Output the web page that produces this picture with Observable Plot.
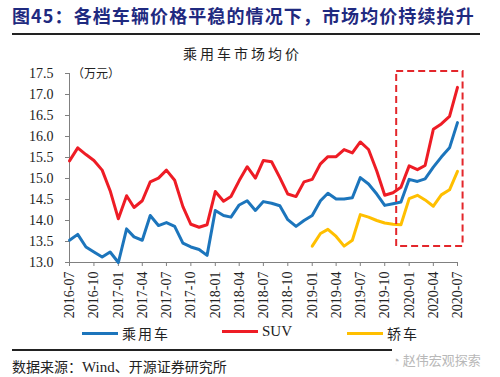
<!DOCTYPE html>
<html><head><meta charset="utf-8">
<script src="https://cdn.jsdelivr.net/npm/d3@7"></script>
<script src="https://cdn.jsdelivr.net/npm/@observablehq/plot@0.6"></script>
<style>
body{margin:0;background:#fff;}
#root{position:relative;width:500px;height:377px;background:#fff;overflow:hidden;font-family:"Noto Sans CJK SC","Liberation Serif",serif;}
.abs{position:absolute;white-space:nowrap;}
</style></head>
<body><div id="root">
<div class="abs" style="left:12px;top:2px;font-size:18px;font-weight:bold;color:#1f2a80;letter-spacing:1.1px;font-family:'Noto Sans CJK SC',sans-serif;">图45：各档车辆价格平稳的情况下，市场均价持续抬升</div>
<div class="abs" style="left:12px;top:33px;width:468px;height:2px;background:#222;"></div>
<div class="abs" style="left:183px;top:43px;font-size:14px;letter-spacing:3px;color:#222;">乘用车市场均价</div>
<div id="plot" class="abs" style="left:0;top:60px;"></div>
<div class="abs" style="left:72px;top:64px;font-size:12px;color:#222;">（万元）</div>
<div id="legend" class="abs" style="left:0;top:323px;width:500px;height:20px;font-size:14px;color:#222;"></div>
<div class="abs" style="left:12px;top:349px;width:380px;height:1.5px;background:#222;"></div>
<div class="abs" style="left:12px;top:356px;font-size:14px;color:#222;font-family:'Noto Sans CJK SC','Liberation Serif',serif;">数据来源：<span style="font-family:'Liberation Serif';font-size:15px">Wind</span>、开源证券研究所</div>
<div class="abs" style="left:392px;top:350px;font-size:13px;color:#b8b8b8;">◔ 赵伟宏观探索</div>
</div>
<script>
const startMonth = "2016-07";
const endMonth = "2020-07";
const seriesNames = ["乘用车", "SUV", "轿车"];
const seriesColors = ["#1c75bc", "#ee1c25", "#ffbf00"];
const passengerCar = [13.53,13.67,13.37,13.25,13.13,13.25,13.00,13.80,13.61,13.53,14.12,13.88,13.95,13.86,13.46,13.37,13.31,13.17,14.24,14.12,14.08,14.37,14.47,14.24,14.45,14.41,14.35,14.02,13.86,14.00,14.12,14.47,14.65,14.51,14.51,14.54,15.02,14.87,14.63,14.36,14.40,14.44,14.98,14.93,14.99,15.27,15.51,15.73,16.33];
const suv = [15.42,15.73,15.57,15.43,15.20,14.71,14.04,14.59,14.31,14.47,14.92,15.01,15.20,14.96,14.33,13.91,13.84,13.90,14.69,14.46,14.57,14.95,15.28,15.01,15.43,15.40,15.02,14.63,14.57,14.92,14.98,15.35,15.52,15.52,15.69,15.61,15.87,15.69,15.18,14.60,14.66,14.79,15.30,15.21,15.31,16.17,16.30,16.48,17.17];
const sedanStart = "2019-01";
const sedan = [13.39,13.69,13.79,13.62,13.39,13.53,14.14,14.08,14.00,13.94,13.91,13.90,14.52,14.60,14.49,14.34,14.61,14.73,15.17];
const yTicks = [13.0,13.5,14.0,14.5,15.0,15.5,16.0,16.5,17.0,17.5];
const highlight = {start: "2019-11-15", end: "2020-07-22", low: 13.38, high: 17.55};

const parse = s => new Date(s.length === 7 ? s + "-01T00:00:00Z" : s + "T00:00:00Z");
const monthsFrom = (s, n) => d3.utcMonth.range(parse(s), d3.utcMonth.offset(parse(s), n));
const rows = [];
const addSeries = (name, start, vals) => monthsFrom(start, vals.length).forEach((d, i) => rows.push({date: d, value: vals[i], series: name}));
addSeries(seriesNames[0], startMonth, passengerCar);
addSeries(seriesNames[1], startMonth, suv);
addSeries(seriesNames[2], sedanStart, sedan);

const x0 = parse(startMonth), x1 = parse(endMonth);
const chart = Plot.plot({
  width: 500, height: 265,
  marginTop: 13, marginBottom: 63, marginLeft: 69, marginRight: 43,
  style: {fontFamily: "'Liberation Serif', serif", fontSize: "14px", background: "transparent", color: "#222"},
  x: {type: "utc", domain: [x0, x1]},
  y: {domain: [13, 17.5]},
  color: {domain: seriesNames, range: seriesColors},
  marks: [
    Plot.ruleY([13], {stroke: "#808080", strokeWidth: 1}),
    Plot.ruleX([x0], {y1: 13, y2: 17.5, stroke: "#808080", strokeWidth: 1}),
    Plot.axisY({ticks: yTicks, tickFormat: d3.format(".1f"), tickSize: 4, tickPadding: 12, stroke: "#808080", fill: "#222", label: null, fontSize: 14}),
    Plot.axisX({ticks: d3.utcMonth.every(3).range(x0, d3.utcDay.offset(x1, 1)), tickFormat: d3.utcFormat("%Y-%m"), tickRotate: -90, tickSize: 4, tickPadding: 5, stroke: "#808080", fill: "#222", label: null, fontSize: 14}),
    Plot.line(rows, {x: "date", y: "value", z: "series", stroke: "series", strokeWidth: 3, curve: "linear"}),
    Plot.rect([highlight], {x1: d => parse(d.start), x2: d => parse(d.end), y1: "low", y2: "high", fill: "none", stroke: "#e3262b", strokeWidth: 2, strokeDasharray: "7,4"})
  ]
});
document.getElementById("plot").appendChild(chart);

const legendPos = [82, 222, 347];
const lg = document.getElementById("legend");
seriesNames.forEach((n, i) => {
  const item = document.createElement("div");
  item.className = "abs";
  item.style.left = legendPos[i] + "px";
  item.style.top = "0px";
  item.style.display = "flex";
  item.style.alignItems = "center";
  item.innerHTML = `<span style="display:inline-block;width:36px;height:3px;background:${seriesColors[i]};margin-right:4px"></span><span style="font-family:${n === "SUV" ? "'Liberation Serif'" : "'Noto Sans CJK SC'"};font-size:${n === "SUV" ? 15 : 14}px;letter-spacing:${n === "SUV" ? 0 : 2}px">${n}</span>`;
  lg.appendChild(item);
});
</script>
</body></html>
